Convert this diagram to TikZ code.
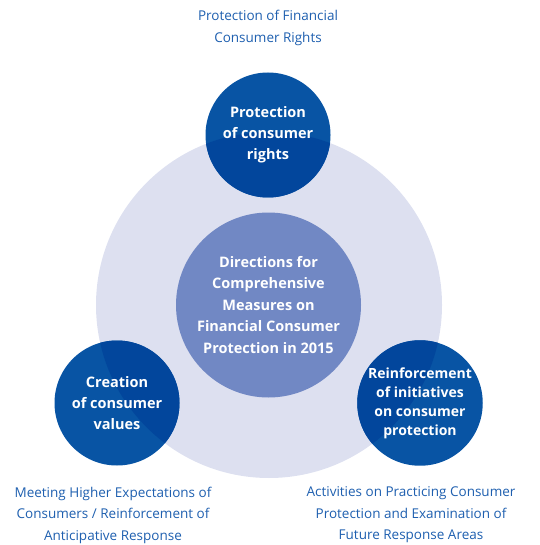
\documentclass[tikz,border=0pt]{standalone}
\usepackage{fontspec}
\setmainfont{Open Sans}
\definecolor{ringlight}{RGB}{221,224,240}
\definecolor{hubblue}{RGB}{113,136,196}
\definecolor{deepblue}{RGB}{8,84,164}
\definecolor{deepshade}{RGB}{2,70,156}
\definecolor{captionblue}{RGB}{30,95,175}
\usetikzlibrary{positioning}

\begin{document}
\begin{tikzpicture}[x=1pt,y=-1pt,
    pillar/.style={circle,fill=deepblue,minimum size=125pt,inner sep=0pt,
        align=center,text=white,font=\fontsize{14.5}{21}\selectfont\bfseries,
        path picture={\fill[deepshade] (ring.center) circle (173pt);}},
    caption/.style={align=center,text=captionblue,
        font=\fontsize{13.5}{21.5}\selectfont}]

        \useasboundingbox (0,0) rectangle (539,545);

        % Large pale disc behind everything
        \node[circle,fill=ringlight,minimum size=346pt,inner sep=0pt] (ring) at (269,305) {};

        % Central disc
        \node[circle,fill=hubblue,minimum size=185pt,inner sep=0pt,align=center,
            text=white,font=\fontsize{14.5}{21.5}\selectfont\bfseries] (hub) at (268.5,305)
            {Directions for\\Comprehensive\\Measures on\\Financial Consumer\\Protection in 2015};

        % Three pillars on the rim
        \node[pillar] (rights) at (268,135) {Protection\\of consumer\\rights};
        \node[pillar] (values) at (117,403) {Creation\\of consumer\\values};
        \node[pillar,font=\fontsize{14}{19}\selectfont\bfseries] (initiatives) at (420,403)
            {Reinforcement\\of initiatives\\on consumer\\protection};

        % Captions
        \node[caption] (rightscap) at (268,28) {Protection of Financial\\Consumer Rights};
        \node[caption] (valuescap) at (113,515) {Meeting Higher Expectations of\\Consumers / Reinforcement of\\Anticipative Response};
        \node[caption] (initiativescap) at (411,515) {Activities on Practicing Consumer\\Protection and Examination of\\Future Response Areas};

    \end{tikzpicture}
\end{document}
